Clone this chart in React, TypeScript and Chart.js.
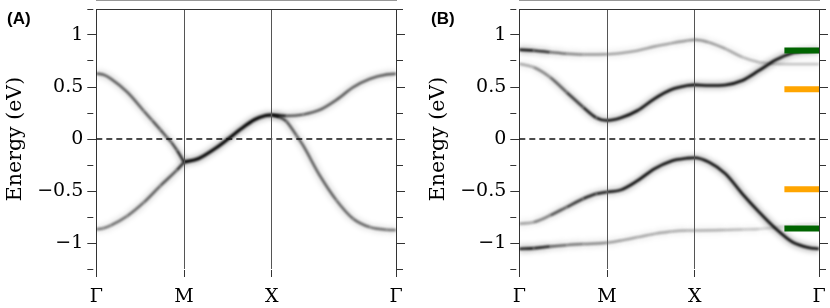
import React, { useEffect, useRef } from "react";
import { Chart, registerables } from "chart.js";
Chart.register(...registerables);

// ---- k-path (Γ=0, M=1, X=2, Γ=2+√2) ----
const kEnd = 2 + Math.SQRT2;
const kTicks = [0, 1, 2, kEnd];
const kLabels = ["Γ", "M", "X", "Γ"];
const eTicks = [-1.25, -1, -0.75, -0.5, -0.25, 0, 0.25, 0.5, 0.75, 1, 1.25];
const fermiLevel = 0;

// ---- Panel A bands ----
const a1K = [0, 0.08, 0.166, 0.353, 0.541, 0.635, 0.729, 0.8, 0.853, 0.92, 1.0];
const a1E = [0.63, 0.618, 0.58, 0.45, 0.27, 0.18, 0.09, 0.02, -0.03, -0.11, -0.222];
const a1W = [0.52, 0.52, 0.52, 0.52, 0.52, 0.54, 0.56, 0.58, 0.6, 0.65, 0.8];

const a2K = [0, 0.08, 0.166, 0.353, 0.541, 0.729, 0.917, 1.0];
const a2E = [-0.868, -0.858, -0.83, -0.74, -0.61, -0.45, -0.3, -0.222];
const a2W = [0.42, 0.42, 0.44, 0.47, 0.5, 0.52, 0.56, 0.8];

const a3K = [1.0, 1.16, 1.35, 1.5, 1.65, 1.8, 1.92, 2.0];
const a3E = [-0.222, -0.19, -0.094, 0.0, 0.098, 0.185, 0.223, 0.232];
const a3W = [1, 1, 1, 1, 1, 1, 1, 1];

const a4K = [2.0, 2.165, 2.354, 2.545, 2.736, 2.926, 3.117, 3.308, kEnd];
const a4E = [0.232, 0.222, 0.235, 0.28, 0.377, 0.498, 0.579, 0.62, 0.627];
const a4W = [0.95, 0.58, 0.52, 0.52, 0.52, 0.52, 0.52, 0.52, 0.52];

const a5K = [2.0, 2.088, 2.165, 2.28, 2.354, 2.545, 2.736, 2.926, 3.117, 3.308, kEnd];
const a5E = [0.232, 0.21, 0.17, 0.034, -0.06, -0.35, -0.59, -0.767, -0.848, -0.873, -0.876];
const a5W = [0.95, 0.68, 0.57, 0.52, 0.52, 0.52, 0.52, 0.5, 0.47, 0.43, 0.43];

// ---- Panel B bands ----
const b1K = [0, 0.163, 0.351, 0.539, 0.728, 1.0, 1.159, 1.348, 1.538, 1.727, 1.916, 2.0, 2.16, 2.35, 2.541, 2.732, 2.922, 3.113, kEnd];
const b1E = [0.858, 0.851, 0.835, 0.82, 0.813, 0.815, 0.826, 0.85, 0.889, 0.92, 0.947, 0.954, 0.93, 0.867, 0.787, 0.738, 0.723, 0.72, 0.72];
const b1W = [0.9, 0.8, 0.55, 0.38, 0.32, 0.29, 0.29, 0.29, 0.29, 0.29, 0.31, 0.33, 0.33, 0.29, 0.24, 0.2, 0.18, 0.18, 0.18];

const b2K = [0, 0.163, 0.351, 0.539, 0.728, 0.879, 1.0, 1.159, 1.348, 1.538, 1.727, 1.916, 2.0, 2.16, 2.35, 2.541, 2.732, 2.922, 3.113, 3.304, kEnd];
const b2E = [0.723, 0.69, 0.594, 0.45, 0.306, 0.204, 0.178, 0.204, 0.274, 0.386, 0.473, 0.514, 0.52, 0.514, 0.52, 0.562, 0.659, 0.761, 0.826, 0.845, 0.851];
const b2W = [0.22, 0.29, 0.44, 0.58, 0.68, 0.78, 0.84, 0.86, 0.86, 0.86, 0.86, 0.88, 0.92, 0.92, 0.92, 0.92, 0.92, 0.92, 0.92, 0.92, 0.92];

const b3K = [0, 0.163, 0.351, 0.539, 0.728, 0.879, 1.0, 1.159, 1.348, 1.538, 1.727, 1.916, 2.0, 2.16, 2.35, 2.541, 2.732, 2.922, 3.113, 3.304, kEnd];
const b3E = [-0.815, -0.8, -0.735, -0.655, -0.575, -0.527, -0.51, -0.489, -0.4, -0.287, -0.213, -0.184, -0.18, -0.223, -0.335, -0.527, -0.703, -0.863, -0.992, -1.046, -1.056];
const b3W = [0.22, 0.32, 0.48, 0.58, 0.68, 0.74, 0.78, 0.84, 0.86, 0.86, 0.86, 0.86, 0.88, 0.92, 0.92, 0.92, 0.96, 0.96, 0.96, 0.96, 0.96];

const b4K = [0, 0.163, 0.351, 0.539, 0.728, 1.0, 1.159, 1.348, 1.538, 1.727, 1.916, 2.0, 2.35, 2.541, 2.732, 2.922, 3.113, kEnd];
const b4E = [-1.056, -1.05, -1.033, -1.02, -1.01, -0.998, -0.976, -0.944, -0.912, -0.889, -0.88, -0.88, -0.875, -0.87, -0.865, -0.85, -0.83, -0.815];
const b4W = [0.96, 0.86, 0.58, 0.44, 0.38, 0.33, 0.29, 0.29, 0.27, 0.25, 0.24, 0.24, 0.23, 0.2, 0.15, 0.12, 0.09, 0.09];

// ---- Panel B markers (energy levels) ----
const markerK = [3.02, kEnd];
const greenLevels = [0.851, -0.86];
const orangeLevels = [0.479, -0.483];

const SERIF = '"DejaVu Serif", serif';
const AXIS_COLOR = "#333";

function bandDatasets(k: number[], e: number[], w: number[], coreWidth = 2.4) {
  const pts = k.map((kv, i) => ({ x: kv, y: e[i] }));
  const seg = (alpha: number) => (ctx: any) => {
    const a = Math.min(1, ((w[ctx.p0DataIndex] + w[ctx.p1DataIndex]) / 2) * alpha);
    return `rgba(0,0,0,${a.toFixed(3)})`;
  };
  const base = {
    data: pts,
    pointRadius: 0,
    fill: false,
    cubicInterpolationMode: "monotone" as const,
    borderCapStyle: "butt" as const,
    borderJoinStyle: "round" as const,
  };
  return [
    { ...base, borderWidth: 8, borderColor: "rgba(0,0,0,0.1)", segment: { borderColor: seg(0.22) }, blur: 2.6, order: 3 },
    { ...base, borderWidth: coreWidth, borderColor: "rgba(0,0,0,0.8)", segment: { borderColor: seg(1.25) }, blur: 1.1, order: 2 },
  ];
}

function hLine(y: number, x0: number, x1: number, color: string, width: number, dash: number[] = []) {
  return {
    data: [{ x: x0, y }, { x: x1, y }],
    borderColor: color,
    borderWidth: width,
    borderDash: dash,
    borderCapStyle: "butt" as const,
    pointRadius: 0,
    fill: false,
    order: 0,
  };
}

const blurPlugin = {
  id: "blurPlugin",
  beforeDatasetDraw(chart: any, args: any) {
    const ds = chart.data.datasets[args.index];
    if (ds.blur) {
      chart.ctx.save();
      chart.ctx.filter = `blur(${ds.blur}px)`;
    }
  },
  afterDatasetDraw(chart: any, args: any) {
    const ds = chart.data.datasets[args.index];
    if (ds.blur) chart.ctx.restore();
  },
};

// top spine of the frame + panel label
const framePlugin = {
  id: "frame",
  afterDraw(chart: any, _a: any, opts: any) {
    const ctx = chart.ctx;
    const { left, right, top } = chart.chartArea;
    ctx.save();
    ctx.strokeStyle = AXIS_COLOR;
    ctx.lineWidth = 1;
    ctx.beginPath();
    ctx.moveTo(left, Math.round(top) + 0.5);
    ctx.lineTo(right, Math.round(top) + 0.5);
    ctx.stroke();
    ctx.font = 'bold 17px "Liberation Sans", Arial, sans-serif';
    ctx.fillStyle = "#000";
    ctx.textBaseline = "alphabetic";
    ctx.textAlign = "left";
    ctx.fillText(opts.text, opts.x, opts.y);
    ctx.restore();
  },
};

const isMajor = (v: number) => Math.abs(v * 2 - Math.round(v * 2)) < 1e-6 && Math.abs(v) < 1.2;
const fmt = (v: number) => {
  if (Math.abs(v) < 1e-9) return "0";
  const s = String(Math.abs(v));
  return v < 0 ? "\u2212" + s : s;
};

function makeOptions(label: string, labelX: number): any {
  const yTickGrid = {
    drawOnChartArea: false,
    tickLength: 9,
    tickColor: AXIS_COLOR,
    tickBorderDash: (ctx: any) => (ctx.tick && isMajor(ctx.tick.value) ? [] : [6, 30]),
  };
  return {
    responsive: false,
    animation: false,
    layout: { padding: { top: 9, left: 0, right: 0, bottom: 0 } },
    plugins: {
      legend: { display: false },
      tooltip: { enabled: false },
      frame: { text: label, x: labelX, y: 23.5 },
    },
    scales: {
      x: {
        type: "linear",
        position: "bottom",
        min: 0,
        max: kEnd,
        afterBuildTicks: (s: any) => {
          s.ticks = kTicks.map((v) => ({ value: v }));
        },
        afterFit: (s: any) => {
          s.height = 39;
          s.paddingLeft = 0;
          s.paddingRight = 0;
        },
        ticks: {
          autoSkip: false,
          maxRotation: 0,
          padding: 9,
          color: "#000",
          font: { family: SERIF, size: 19 },
          callback: (_v: any, i: number) => kLabels[i],
        },
        grid: {
          z: 1,
          drawOnChartArea: true,
          color: (ctx: any) => (ctx.index === 1 || ctx.index === 2 ? "#555" : "rgba(0,0,0,0)"),
          lineWidth: 1,
          tickLength: 8,
          tickColor: AXIS_COLOR,
        },
        border: { color: AXIS_COLOR, width: 1 },
      },
      y: {
        type: "linear",
        position: "left",
        min: -1.25,
        max: 1.25,
        afterBuildTicks: (s: any) => {
          s.ticks = eTicks.map((v) => ({ value: v }));
        },
        afterFit: (s: any) => {
          s.width = 96.3;
          s.paddingTop = 0;
          s.paddingBottom = 0;
        },
        ticks: {
          autoSkip: false,
          padding: 4,
          color: "#000",
          font: { family: SERIF, size: 19 },
          callback: (v: number) => (isMajor(v) ? fmt(v) : ""),
        },
        grid: yTickGrid,
        border: { color: AXIS_COLOR, width: 1 },
        title: {
          display: true,
          text: "Energy (eV)",
          color: "#000",
          font: { family: SERIF, size: 20.5 },
          padding: { top: 3, bottom: 0 },
        },
      },
      yRight: {
        type: "linear",
        position: "right",
        min: -1.25,
        max: 1.25,
        afterBuildTicks: (s: any) => {
          s.ticks = eTicks.map((v) => ({ value: v }));
        },
        afterFit: (s: any) => {
          s.width = 11;
          s.paddingTop = 0;
          s.paddingBottom = 0;
        },
        ticks: { display: false },
        grid: yTickGrid,
        border: { color: AXIS_COLOR, width: 1 },
      },
    },
  };
}

function Panel({ left, datasets, label, labelX }: { left: number; datasets: any[]; label: string; labelX: number }) {
  const ref = useRef<HTMLCanvasElement>(null);
  useEffect(() => {
    const chart = new Chart(ref.current as HTMLCanvasElement, {
      type: "line",
      data: { datasets },
      options: makeOptions(label, labelX),
      plugins: [blurPlugin, framePlugin],
    } as any);
    return () => chart.destroy();
  }, []);
  return (
    <canvas
      ref={ref}
      width={407}
      height={308}
      style={{ position: "absolute", left, top: 0, width: 407, height: 308 }}
    />
  );
}

export default function App() {
  const dsA = [
    hLine(fermiLevel, 0, kEnd, "#111", 1.3, [6, 4]),
    ...bandDatasets(a1K, a1E, a1W),
    ...bandDatasets(a2K, a2E, a2W),
    ...bandDatasets(a3K, a3E, a3W, 3.2),
    ...bandDatasets(a4K, a4E, a4W),
    ...bandDatasets(a5K, a5E, a5W),
  ];
  const dsB = [
    hLine(fermiLevel, 0, kEnd, "#111", 1.3, [6, 4]),
    ...greenLevels.map((v) => hLine(v, markerK[0], markerK[1], "#006400", 6)),
    ...orangeLevels.map((v) => hLine(v, markerK[0], markerK[1], "#FFA500", 6)),
    ...bandDatasets(b1K, b1E, b1W),
    ...bandDatasets(b2K, b2E, b2W, 2.6),
    ...bandDatasets(b3K, b3E, b3W, 2.6),
    ...bandDatasets(b4K, b4E, b4W),
  ];
  return (
    <div style={{ position: "absolute", left: 0, top: 0, width: 830, height: 308, background: "#fff" }}>
      <Panel left={0} datasets={dsA} label="(A)" labelX={7} />
      <Panel left={423} datasets={dsB} label="(B)" labelX={8} />
    </div>
  );
}
